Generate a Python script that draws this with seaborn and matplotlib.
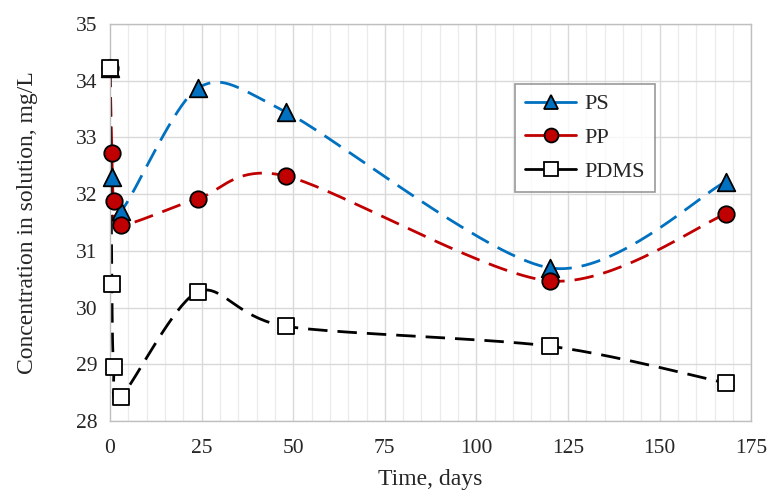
import numpy as np
import pandas as pd
import matplotlib
matplotlib.use("Agg")
import matplotlib.pyplot as plt
from matplotlib.lines import Line2D
import seaborn as sns

# ---- data ----
# (all series start at the same initial concentration; the PS/PP t=0 markers
#  sit behind the PDMS square)
ps_days = [0, 0.5, 3, 24, 48, 120, 168]
ps_vals = [34.23, 32.30, 31.70, 33.87, 33.45, 30.70, 32.22]

pp_days = [0, 0.5, 1, 3, 24, 48, 120, 168]
pp_vals = [34.23, 32.72, 31.88, 31.45, 31.92, 32.32, 30.47, 31.65]

pdms_days = [0, 0.5, 1, 3, 24, 48, 120, 168]
pdms_vals = [34.23, 30.42, 28.96, 28.43, 30.28, 29.67, 29.32, 28.67]

x_ticks = [0, 25, 50, 75, 100, 125, 150, 175]
y_ticks = [28, 29, 30, 31, 32, 33, 34, 35]

sns.set_theme(style="white")
plt.rcParams['font.family'] = ['Liberation Serif', 'DejaVu Serif']

fig = plt.figure(figsize=(7.69, 4.96), dpi=100)
ax = fig.add_axes([0.143, 0.1512, 0.834, 0.8004])
ax.set_xlim(0, 175)
ax.set_ylim(28, 35)

# px per unit for smoothing in display-like space
SX, SY = 3.665, 56.7
TENSION = 1.0 / 7.0


def smooth(xs, ys, n=40):
    """Excel-like smoothed line (Catmull-Rom Bezier) through the data."""
    P = np.column_stack([np.asarray(xs, float) * SX, np.asarray(ys, float) * SY])
    out = [P[0]]
    m = len(P)
    for i in range(m - 1):
        p0 = P[i - 1] if i > 0 else P[i]
        p1, p2 = P[i], P[i + 1]
        p3 = P[i + 2] if i + 2 < m else P[i + 1]
        c1 = p1 + (p2 - p0) * TENSION
        c2 = p2 - (p3 - p1) * TENSION
        t = np.linspace(0, 1, n)[1:, None]
        seg = ((1 - t) ** 3) * p1 + 3 * ((1 - t) ** 2) * t * c1 + 3 * (1 - t) * t ** 2 * c2 + t ** 3 * p2
        out.extend(seg)
    out = np.array(out)
    return out[:, 0] / SX, out[:, 1] / SY


# grid
for xv in np.arange(5, 176, 5):
    major = (xv % 25 == 0)
    ax.axvline(xv, color='#D9D9D9' if major else '#EBEBEB', lw=1.0 if major else 0.9, zorder=0)
for yv in y_ticks:
    ax.axhline(yv, color='#D9D9D9', lw=1.0, zorder=0)

series = [
    ("PS", ps_days, ps_vals, '#0070C0', '^', '#0070C0'),
    ("PP", pp_days, pp_vals, '#C00000', 'o', '#C00000'),
    ("PDMS", pdms_days, pdms_vals, '#000000', 's', 'white'),
]
dash = (7.0, 3.6)
handles = []
for name, xs, ys, col, mk, fc in series:
    sx, sy = smooth(xs, ys)
    ax.plot(sx, sy, color=col, lw=2.0, dashes=dash, zorder=2, solid_capstyle='butt')
for name, xs, ys, col, mk, fc in series:
    df = pd.DataFrame({"day": xs, "val": ys})
    sns.scatterplot(data=df, x="day", y="val", marker=mk, s=140 if mk != '^' else 160,
                    color=fc, edgecolor='black', linewidth=1.3, ax=ax, zorder=3, clip_on=False)
    handles.append(Line2D([0], [0], color=col, lw=2.0, marker=mk, markersize=10,
                          markerfacecolor=fc, markeredgecolor='black', markeredgewidth=1.3))

ax.set_xticks(x_ticks)
ax.set_yticks(y_ticks)
ax.tick_params(axis='both', length=0, labelsize=15.5, colors='#262626', pad=9)
ax.tick_params(axis='x', pad=13)
for s in ax.spines.values():
    s.set_color('#BFBFBF')
    s.set_linewidth(1.0)
ax.set_xlabel("Time, days", fontsize=17, color='#262626', labelpad=8)
ax.set_ylabel("Concentration in solution, mg/L", fontsize=17, color='#262626', labelpad=27)

leg = fig.legend(handles, ["PS", "PP", "PDMS"], loc='upper left',
                 bbox_to_anchor=(0.670, 0.831), borderaxespad=0, fontsize=16, frameon=True,
                 fancybox=False, edgecolor='#808080', handlelength=2.3,
                 borderpad=0.45, labelspacing=0.6, handletextpad=0.35)
leg.get_frame().set_linewidth(1.2)

fig.savefig("out.png", dpi=100)
